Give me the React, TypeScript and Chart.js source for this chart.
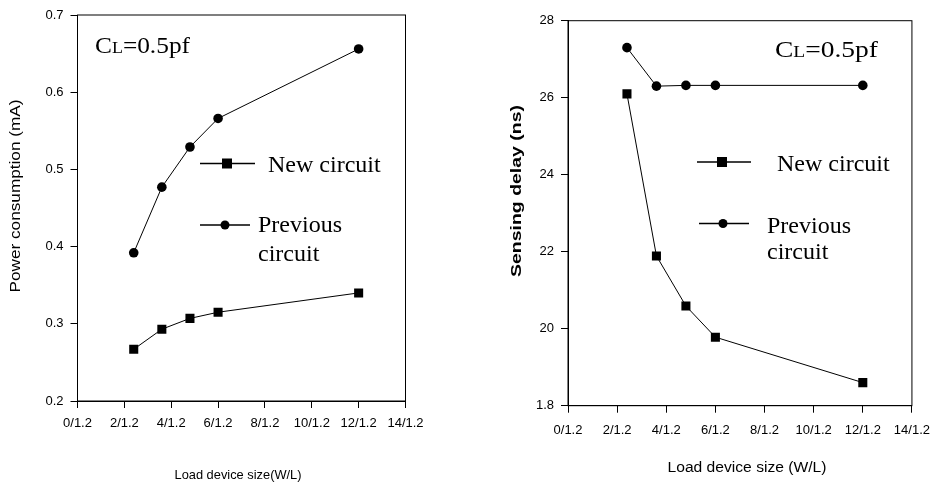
import React, { useEffect, useRef } from "react";
import { Chart, registerables } from "chart.js";

Chart.register(...registerables);

// ---------- data ----------
const xValues = [2.4, 3.6, 4.8, 6, 12];
const powerNew = [0.267, 0.293, 0.307, 0.315, 0.34];
const powerPrev = [0.392, 0.477, 0.529, 0.566, 0.656];
const delayNew = [2.61, 2.189, 2.059, 1.978, 1.86];
const delayPrev = [2.73, 2.63, 2.632, 2.632, 2.632];

const xTickLabels = ["0/1.2", "2/1.2", "4/1.2", "6/1.2", "8/1.2", "10/1.2", "12/1.2", "14/1.2"];
const powerTickLabels = ["0.2", "0.3", "0.4", "0.5", "0.6", "0.7"];
const delayTickLabels = ["1.8", "20", "22", "24", "26", "28"];

const newLabel = "New circuit";
const prevLabel = ["Previous", "circuit"];
const annotationParts = ["C", "L", "=0.5pf"];

const SANS = "'Liberation Sans', Arial, sans-serif";
const SERIF = "'Liberation Serif', 'Times New Roman', serif";

type Decor = {
  yTitle: string;
  yTitleBold: boolean;
  yTitlePos: [number, number];
  yTitleFont: number;
  yTitleLen: number;
  xTitle: string;
  xTitlePos: [number, number];
  xTitleFont: number;
  xTitleLen: number;
  annot: [number, number, number];
  legNew: { x1: number; x2: number; y: number; mx: number; tx: number; ty: number };
  legPrev: { x1: number; x2: number; y: number; mx: number; tx: number; ty: number; ty2: number };
};

function drawStretched(
  ctx: CanvasRenderingContext2D,
  text: string,
  x: number,
  y: number,
  font: string,
  targetW: number,
  rot: number
) {
  ctx.save();
  ctx.font = font;
  ctx.textAlign = "center";
  ctx.textBaseline = "middle";
  const w = ctx.measureText(text).width;
  ctx.translate(x, y);
  ctx.rotate(rot);
  ctx.scale(targetW / w, 1);
  ctx.fillStyle = "#000";
  ctx.fillText(text, 0, 0);
  ctx.restore();
}

function makeDecorPlugin(d: Decor) {
  return {
    id: "decor",
    afterDraw(chart: any) {
      const ctx: CanvasRenderingContext2D = chart.ctx;
      const a = chart.chartArea;
      ctx.save();
      ctx.strokeStyle = "#000";
      ctx.lineWidth = 1;
      ctx.strokeRect(a.left, a.top, a.right - a.left, a.bottom - a.top);

      // axis titles
      drawStretched(
        ctx,
        d.yTitle,
        d.yTitlePos[0],
        d.yTitlePos[1],
        `${d.yTitleBold ? "bold " : ""}${d.yTitleFont}px ${SANS}`,
        d.yTitleLen,
        -Math.PI / 2
      );
      drawStretched(ctx, d.xTitle, d.xTitlePos[0], d.xTitlePos[1], `${d.xTitleFont}px ${SANS}`, d.xTitleLen, 0);

      // annotation C_L=0.5pf
      ctx.fillStyle = "#000";
      ctx.textBaseline = "alphabetic";
      ctx.textAlign = "left";
      const big = `24px ${SERIF}`;
      const small = `17px ${SERIF}`;
      const fonts = [big, small, big];
      let total = 0;
      const widths = annotationParts.map((p, i) => {
        ctx.font = fonts[i];
        const w = ctx.measureText(p).width;
        total += w;
        return w;
      });
      const sx = d.annot[2] / total;
      ctx.save();
      ctx.translate(d.annot[0], d.annot[1]);
      ctx.scale(sx, 1);
      let cx = 0;
      annotationParts.forEach((p, i) => {
        ctx.font = fonts[i];
        ctx.fillText(p, cx, 0);
        cx += widths[i];
      });
      ctx.restore();

      // legend
      ctx.lineWidth = 1.3;
      ctx.beginPath();
      ctx.moveTo(d.legNew.x1, d.legNew.y);
      ctx.lineTo(d.legNew.x2, d.legNew.y);
      ctx.stroke();
      ctx.fillRect(d.legNew.mx - 5, d.legNew.y - 5, 10, 10);
      ctx.beginPath();
      ctx.moveTo(d.legPrev.x1, d.legPrev.y);
      ctx.lineTo(d.legPrev.x2, d.legPrev.y);
      ctx.stroke();
      ctx.beginPath();
      ctx.arc(d.legPrev.mx, d.legPrev.y, 4.5, 0, Math.PI * 2);
      ctx.fill();

      ctx.font = big;
      ctx.fillText(newLabel, d.legNew.tx, d.legNew.ty);
      ctx.fillText(prevLabel[0], d.legPrev.tx, d.legPrev.ty);
      ctx.fillText(prevLabel[1], d.legPrev.tx, d.legPrev.ty2);
      ctx.restore();
    },
  };
}

type Cfg = {
  yMin: number;
  yMax: number;
  yStep: number;
  yLabels: string[];
  newData: number[];
  prevData: number[];
  padding: { left: number; right: number; top: number; bottom: number };
  yWidth: number;
  xHeight: number;
  xTickPad: number;
  decor: Decor;
};

function buildConfig(c: Cfg): any {
  const tickFont = { family: SANS, size: 13 };
  return {
    type: "line",
    data: {
      datasets: [
        {
          label: newLabel,
          data: xValues.map((x, i) => ({ x, y: c.newData[i] })),
          borderColor: "#000",
          borderWidth: 1,
          backgroundColor: "#000",
          pointStyle: "rect",
          pointRadius: 6.4,
          pointBackgroundColor: "#000",
          pointBorderColor: "#000",
          pointBorderWidth: 0,
          tension: 0,
        },
        {
          label: prevLabel.join(" "),
          data: xValues.map((x, i) => ({ x, y: c.prevData[i] })),
          borderColor: "#000",
          borderWidth: 1,
          backgroundColor: "#000",
          pointStyle: "circle",
          pointRadius: 4.8,
          pointBackgroundColor: "#000",
          pointBorderColor: "#000",
          pointBorderWidth: 0,
          tension: 0,
        },
      ],
    },
    options: {
      animation: false,
      responsive: false,
      maintainAspectRatio: false,
      devicePixelRatio: 1,
      layout: { padding: c.padding },
      plugins: { legend: { display: false }, tooltip: { enabled: false } },
      scales: {
        x: {
          type: "linear",
          min: 0,
          max: 14,
          afterFit: (s: any) => {
            s.height = c.xHeight;
          },
          ticks: {
            stepSize: 2,
            color: "#000",
            font: tickFont,
            padding: c.xTickPad,
            maxRotation: 0,
            autoSkip: false,
            callback: (v: number) => xTickLabels[Math.round(v / 2)],
          },
          grid: { display: true, drawOnChartArea: false, drawTicks: true, tickLength: 7, color: "#000" },
          border: { display: true, color: "#000", width: 1 },
        },
        y: {
          type: "linear",
          min: c.yMin,
          max: c.yMax,
          afterFit: (s: any) => {
            s.width = c.yWidth;
          },
          ticks: {
            stepSize: c.yStep,
            color: "#000",
            font: tickFont,
            padding: 7,
            callback: (_v: number, i: number) => c.yLabels[i],
          },
          grid: { display: true, drawOnChartArea: false, drawTicks: true, tickLength: 7, color: "#000" },
          border: { display: true, color: "#000", width: 1 },
        },
      },
    },
    plugins: [makeDecorPlugin(c.decor)],
  };
}

const leftCfg: Cfg = {
  yMin: 0.2,
  yMax: 0.7,
  yStep: 0.1,
  yLabels: powerTickLabels,
  newData: powerNew,
  prevData: powerPrev,
  padding: { left: 0, right: 64.5, top: 15, bottom: 0 },
  yWidth: 77.5,
  xHeight: 84,
  xTickPad: 8,
  decor: {
    yTitle: "Power consumption (mA)",
    yTitleBold: false,
    yTitlePos: [16, 196],
    yTitleFont: 14,
    yTitleLen: 193,
    xTitle: "Load device size(W/L)",
    xTitlePos: [238, 475],
    xTitleFont: 13,
    xTitleLen: 127,
    annot: [95, 53, 95],
    legNew: { x1: 200, x2: 255, y: 163.5, mx: 227, tx: 268, ty: 172 },
    legPrev: { x1: 200, x2: 250, y: 225, mx: 225, tx: 258, ty: 232, ty2: 261 },
  },
};

const rightCfg: Cfg = {
  yMin: 1.8,
  yMax: 2.8,
  yStep: 0.2,
  yLabels: delayTickLabels,
  newData: delayNew,
  prevData: delayPrev,
  padding: { left: 0, right: 22.7, top: 20.7, bottom: 0 },
  yWidth: 98,
  xHeight: 79.3,
  xTickPad: 10,
  decor: {
    yTitle: "Sensing delay (ns)",
    yTitleBold: true,
    yTitlePos: [47, 191],
    yTitleFont: 15,
    yTitleLen: 172,
    xTitle: "Load device size (W/L)",
    xTitlePos: [277, 468],
    xTitleFont: 14,
    xTitleLen: 159,
    annot: [305, 57, 103],
    legNew: { x1: 227, x2: 281, y: 162, mx: 252, tx: 307, ty: 171 },
    legPrev: { x1: 229, x2: 279, y: 223.5, mx: 253, tx: 297, ty: 233, ty2: 259 },
  },
};

function ChartCanvas({ cfg, left }: { cfg: Cfg; left: number }) {
  const ref = useRef<HTMLCanvasElement | null>(null);
  useEffect(() => {
    if (!ref.current) return;
    const chart = new Chart(ref.current, buildConfig(cfg));
    return () => chart.destroy();
  }, [cfg]);
  return (
    <canvas
      ref={ref}
      width={470}
      height={485}
      style={{ position: "absolute", left, top: 0, width: 470, height: 485, display: "block" }}
    />
  );
}

export default function App() {
  return (
    <div
      style={{
        position: "absolute",
        left: 0,
        top: 0,
        width: 940,
        height: 485,
        background: "#fff",
        overflow: "hidden",
      }}
    >
      <ChartCanvas cfg={leftCfg} left={0} />
      <ChartCanvas cfg={rightCfg} left={470} />
    </div>
  );
}
